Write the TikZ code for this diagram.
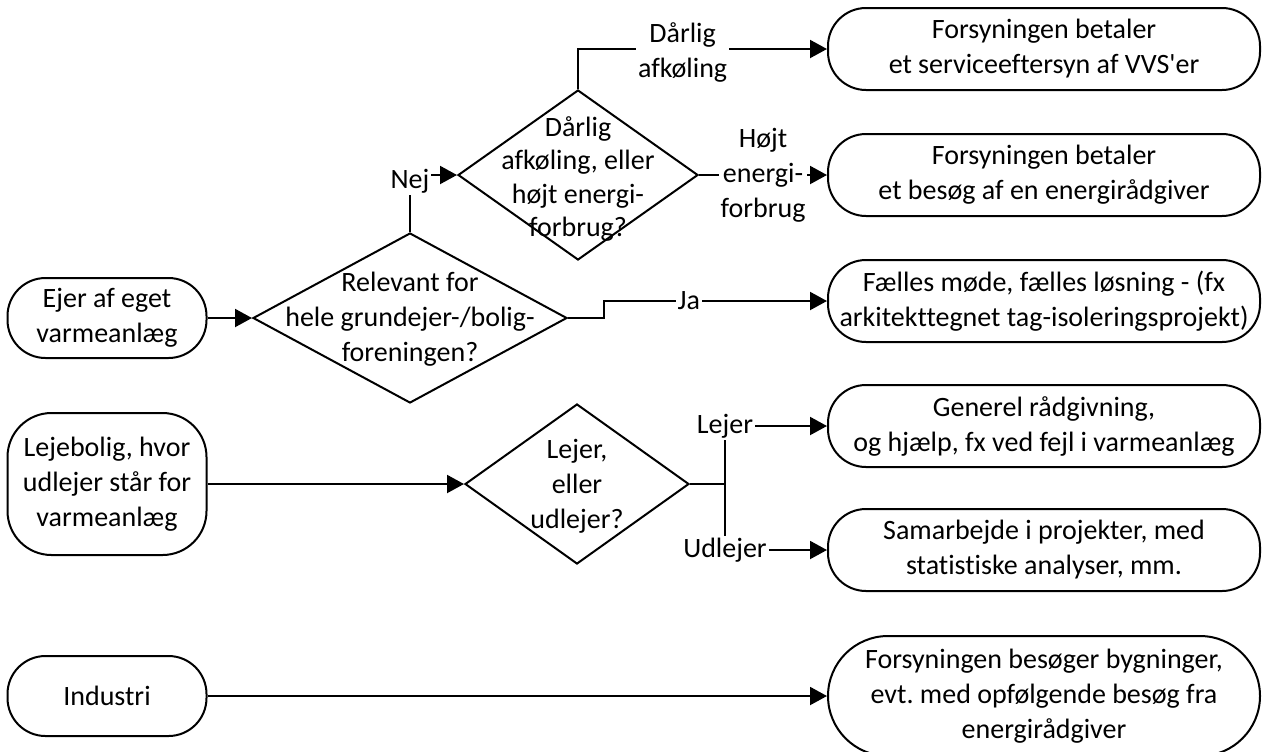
\documentclass[tikz,border=0pt]{standalone}
\usepackage{fontspec}
\newfontfamily\carl{Carlito}[Ligatures=NoCommon]
\frenchspacing
\usetikzlibrary{arrows.meta,shapes.geometric,shapes.misc}
\begin{document}
\begin{tikzpicture}[x=0.5pt,y=-0.5pt,
  every node/.style={font=\carl\fontsize{14}{17.5}\selectfont, align=center, text=black},
  term/.style={draw, line width=1pt, rounded corners=19pt, minimum width=216pt, minimum height=41pt, inner sep=0pt},
  start/.style={draw, line width=1pt, rounded corners=19pt, minimum width=99.5pt, minimum height=40pt, inner sep=0pt},
  dia/.style={draw, diamond, line width=1pt, inner sep=0pt},
  lbl/.style={fill=white, inner sep=1pt},
  arr/.style={line width=1pt, -{Triangle[length=8.5pt,width=9pt]}},
  ln/.style={line width=1pt}]
\useasboundingbox (0,0) rectangle (1263,751);

% outcome boxes
\node[term] (b1) at (1044,49) {Forsyningen betaler\\et serviceeftersyn af VVS'er};
\node[term] (b2) at (1044,175) {Forsyningen betaler\\et besøg af en energirådgiver};
\node[term] (b3) at (1044,301) {Fælles møde, fælles løsning - (fx\\arkitekttegnet tag-isoleringsprojekt)};
\node[term] (b4) at (1044,426) {Generel rådgivning,\\og hjælp, fx ved fejl i varmeanlæg};
\node[term] (b5) at (1044,550) {Samarbejde i projekter, med\\statistiske analyser, mm.};
\node[draw, line width=1pt, rounded rectangle, minimum width=216pt, minimum height=60pt, inner sep=0pt] (b6) at (1044,696) {Forsyningen besøger bygninger,\\evt. med opfølgende besøg fra\\energirådgiver};

% start boxes
\node[start] (s1) at (107,318) {Ejer af eget\\varmeanlæg};
\node[start, minimum height=71pt, rounded corners=22pt] (s2) at (107,484) {Lejebolig, hvor\\udlejer står for\\varmeanlæg};
\node[start] (s3) at (107,696) {Industri};

% decisions
\node[dia, minimum width=157pt, minimum height=85pt] (d1) at (410,318) {};
\node (d1t) at (410,319) {Relevant for\\hele grundejer-/bolig-\\foreningen?};
\node[dia, minimum width=120pt, minimum height=85pt] (d2) at (578,175) {};
\node[font=\carl\fontsize{14}{16.75}\selectfont] (d2t) at (578,179) {Dårlig\\afkøling, eller\\højt energi-\\forbrug?};
\node[dia, minimum width=112pt, minimum height=80pt] (d3) at (577,484) {};
\node (d3t) at (577,486) {Lejer,\\eller\\udlejer?};

% connectors
\draw[arr] (s1.east) -- (d1.west);
\draw[arr] (d1.north) |- node[lbl, pos=0.5, yshift=-3pt]{Nej} (d2.west);
\draw[arr] (d2.north) |- node[lbl, pos=0.71, yshift=-1.5pt]{Dårlig\\afkøling} (b1.west);
\draw[arr] (d2.east) -- node[lbl]{Højt\\energi-\\forbrug} (b2.west);
\draw[arr] (d1.east) -- ++(36,0) |- node[lbl, pos=0.69]{Ja} (b3.west);
\coordinate (j3) at (725,484);
\draw[ln] (d3.east) -- (j3);
\draw[arr] (j3) |- node[lbl, pos=0.5]{Lejer} (b4.west);
\draw[arr] (j3) |- node[lbl, pos=0.5]{Udlejer} (b5.west);
\draw[arr] (s2.east) -- (d3.west);
\draw[arr] (s3.east) -- (b6.west);
\end{tikzpicture}
\end{document}
